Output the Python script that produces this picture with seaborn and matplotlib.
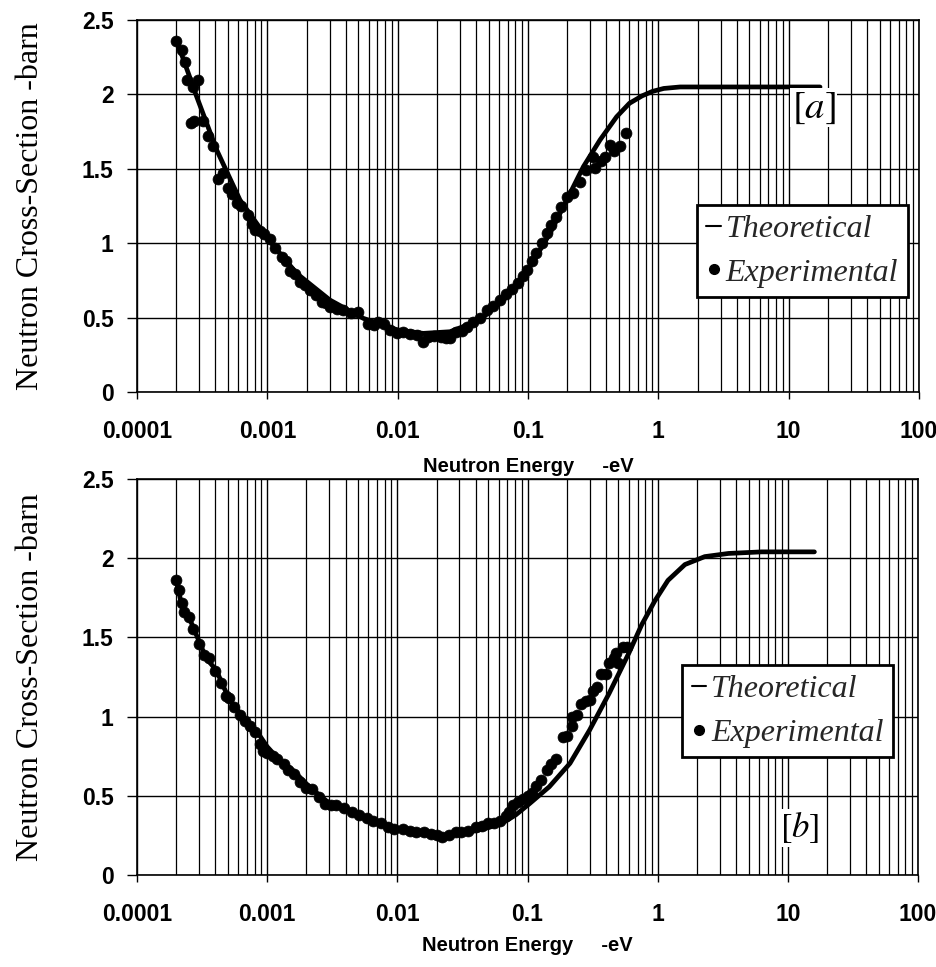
import numpy as np
import pandas as pd
import matplotlib
matplotlib.use("Agg")
import matplotlib.pyplot as plt
import seaborn as sns
from matplotlib.ticker import FixedLocator, FixedFormatter, LogLocator, NullFormatter
from matplotlib.lines import Line2D
from matplotlib.font_manager import FontProperties

# ---------------- data ----------------
x_ticks = [1e-4, 1e-3, 1e-2, 1e-1, 1, 10, 100]
x_tick_labels = ["0.0001", "0.001", "0.01", "0.1", "1", "10", "100"]
y_ticks = [0, 0.5, 1, 1.5, 2, 2.5]
y_tick_labels = ["0", "0.5", "1", "1.5", "2", "2.5"]

# panel [a] theoretical curve
theo_a_E = [2.0e-4, 2.87e-4, 4.09e-4, 6.17e-4, 1e-3, 1.68e-3, 3.02e-3, 5.45e-3, 0.01, 0.0157,
            0.0252, 0.0429, 0.0687, 0.1035, 0.1475, 0.198, 0.266, 0.357, 0.479, 0.60,
            0.75, 0.90, 1.1, 1.47, 2.5, 5.0, 17.4]
theo_a_S = [2.37, 1.985, 1.626, 1.29, 1.033, 0.797, 0.618, 0.495, 0.417, 0.394,
            0.405, 0.484, 0.64, 0.842, 1.066, 1.29, 1.514, 1.694, 1.85, 1.94,
            1.99, 2.02, 2.04, 2.05, 2.05, 2.05, 2.05]

# panel [a] experimental points
exp_a_E = [2.0e-4, 2.2e-4, 2.35e-4, 2.4e-4, 2.7e-4, 2.96e-4, 2.6e-4, 2.75e-4, 3.2e-4, 3.5e-4,
           3.8e-4, 4.2e-4, 4.6e-4, 5.0e-4, 5.4e-4, 5.8e-4, 6.3e-4, 7.1e-4, 7.6e-4, 8.05e-4,
           8.8e-4, 9.5e-4, 1.05e-3, 1.15e-3, 1.29e-3, 1.38e-3, 1.49e-3, 1.62e-3, 1.78e-3, 1.95e-3,
           2.12e-3, 2.35e-3, 2.61e-3, 2.8e-3, 3.03e-3, 3.4e-3, 3.83e-3, 4.4e-3, 5.0e-3, 5.9e-3,
           6.6e-3, 7.1e-3, 7.8e-3, 8.8e-3, 9.8e-3, 0.011, 0.0125, 0.014, 0.0157, 0.017,
           0.019, 0.0215, 0.0235, 0.0252, 0.028, 0.031, 0.0339, 0.038, 0.043, 0.0481,
           0.054, 0.0609, 0.068, 0.075, 0.0845, 0.091, 0.098, 0.107, 0.116, 0.127,
           0.139, 0.151, 0.165, 0.18, 0.198, 0.223, 0.25, 0.28, 0.317, 0.325,
           0.36, 0.39, 0.426, 0.46, 0.51, 0.56]
exp_a_S = [2.36, 2.30, 2.22, 2.10, 2.05, 2.10, 1.81, 1.82, 1.82, 1.72,
           1.65, 1.43, 1.47, 1.37, 1.33, 1.27, 1.25, 1.19, 1.13, 1.09,
           1.08, 1.06, 1.03, 0.97, 0.91, 0.88, 0.81, 0.79, 0.74, 0.72,
           0.685, 0.65, 0.607, 0.60, 0.573, 0.56, 0.551, 0.53, 0.54, 0.46,
           0.45, 0.47, 0.46, 0.42, 0.394, 0.40, 0.39, 0.38, 0.338, 0.37,
           0.375, 0.37, 0.36, 0.36, 0.40, 0.41, 0.44, 0.47, 0.50, 0.551,
           0.58, 0.618, 0.66, 0.69, 0.73, 0.78, 0.82, 0.88, 0.932, 1.00,
           1.066, 1.12, 1.178, 1.24, 1.31, 1.335, 1.413, 1.49, 1.58, 1.503,
           1.55, 1.58, 1.66, 1.62, 1.65, 1.74]

# panel [b] theoretical curve
theo_b_E = [2.0e-4, 2.25e-4, 2.53e-4, 3.4e-4, 4.06e-4, 5.13e-4, 6.5e-4, 8.2e-4, 1.0e-3, 1.24e-3,
            1.57e-3, 2.11e-3, 3.0e-3, 4.8e-3, 7.7e-3, 0.01, 0.0148, 0.021, 0.0317, 0.0506,
            0.068, 0.0814, 0.1035, 0.147, 0.212, 0.30, 0.424, 0.6, 0.754, 0.95,
            1.2, 1.62, 2.3, 3.5, 6.3, 16.0]
theo_b_S = [1.86, 1.673, 1.62, 1.368, 1.294, 1.105, 1.0, 0.915, 0.81, 0.726,
            0.663, 0.557, 0.453, 0.39, 0.326, 0.295, 0.263, 0.245, 0.26, 0.30,
            0.34, 0.38, 0.45, 0.557, 0.705, 0.915, 1.147, 1.40, 1.58, 1.73,
            1.86, 1.96, 2.01, 2.03, 2.04, 2.04]

# panel [b] experimental points
exp_b_E = [2.0e-4, 2.1e-4, 2.2e-4, 2.3e-4, 2.5e-4, 2.7e-4, 3.0e-4, 3.3e-4, 3.6e-4, 4.0e-4,
           4.4e-4, 4.8e-4, 5.1e-4, 5.6e-4, 6.2e-4, 6.8e-4, 7.4e-4, 8.1e-4, 8.8e-4, 9.3e-4,
           1.0e-3, 1.1e-3, 1.2e-3, 1.35e-3, 1.45e-3, 1.6e-3, 1.8e-3, 2.0e-3, 2.2e-3, 2.5e-3,
           2.8e-3, 3.1e-3, 3.4e-3, 3.9e-3, 4.5e-3, 5.1e-3, 5.8e-3, 6.5e-3, 7.5e-3, 8.5e-3,
           0.0095, 0.011, 0.0125, 0.014, 0.016, 0.018, 0.020, 0.022, 0.025, 0.028,
           0.031, 0.035, 0.040, 0.045, 0.050, 0.055, 0.062, 0.068, 0.072, 0.078,
           0.085, 0.093, 0.100, 0.108, 0.116, 0.128, 0.140, 0.152, 0.165, 0.187,
           0.200, 0.221, 0.221, 0.240, 0.256, 0.280, 0.300, 0.320, 0.340, 0.370,
           0.400, 0.424, 0.460, 0.480, 0.500, 0.540, 0.580]
exp_b_S = [1.86, 1.80, 1.72, 1.66, 1.63, 1.55, 1.46, 1.39, 1.37, 1.29,
           1.21, 1.13, 1.12, 1.06, 1.01, 0.97, 0.94, 0.90, 0.83, 0.78,
           0.77, 0.75, 0.73, 0.70, 0.66, 0.64, 0.59, 0.55, 0.54, 0.49,
           0.45, 0.44, 0.44, 0.42, 0.40, 0.38, 0.36, 0.34, 0.33, 0.30,
           0.29, 0.29, 0.28, 0.27, 0.27, 0.26, 0.25, 0.24, 0.25, 0.27,
           0.27, 0.28, 0.30, 0.31, 0.33, 0.33, 0.34, 0.37, 0.40, 0.44,
           0.46, 0.48, 0.50, 0.52, 0.56, 0.60, 0.66, 0.70, 0.73, 0.87,
           0.88, 0.94, 1.00, 1.01, 1.08, 1.10, 1.105, 1.16, 1.19, 1.27,
           1.27, 1.34, 1.37, 1.40, 1.34, 1.44, 1.44]

legend_labels = ["Theoretical", "Experimental"]
panel_tags = ["$[a]$", "$[b]$"]
x_label = "Neutron Energy     -eV"
y_label = "Neutron Cross-Section -barn"

# ---------------- style ----------------
sns.set_style("white")
plt.rcParams["font.family"] = ["Liberation Sans", "DejaVu Sans"]
plt.rcParams["mathtext.fontset"] = "stix"

fig = plt.figure(figsize=(9.37, 9.67), dpi=100)
ax_a = fig.add_axes([137 / 937, 1 - 392 / 967, 782 / 937, 372 / 967])
ax_b = fig.add_axes([137 / 937, 1 - 875 / 967, 781 / 937, 396 / 967])

serif = "Liberation Serif"


def draw_panel(ax, tE, tS, eE, eS, tag, tag_xy, tag_size, leg_anchor, xlab_y):
    dft = pd.DataFrame({"E": tE, "S": tS})
    dfe = pd.DataFrame({"E": eE, "S": eS})
    sns.lineplot(data=dft, x="E", y="S", ax=ax, color="black", linewidth=3.4,
                 estimator=None, sort=False, zorder=3)
    sns.scatterplot(data=dfe, x="E", y="S", ax=ax, color="black", s=62,
                    edgecolor="black", linewidth=0.5, zorder=4)
    ax.set_xscale("log")
    ax.set_xlim(1e-4, 100)
    ax.set_ylim(0, 2.5)
    ax.xaxis.set_major_locator(FixedLocator(x_ticks))
    ax.xaxis.set_major_formatter(FixedFormatter(x_tick_labels))
    ax.xaxis.set_minor_locator(LogLocator(base=10, subs=np.arange(2, 10), numticks=20))
    ax.xaxis.set_minor_formatter(NullFormatter())
    ax.yaxis.set_major_locator(FixedLocator(y_ticks))
    ax.yaxis.set_major_formatter(FixedFormatter(y_tick_labels))
    ax.set_axisbelow(True)
    ax.grid(which="major", axis="both", color="black", linewidth=1.0)
    ax.grid(which="minor", axis="x", color="black", linewidth=0.9)
    ax.tick_params(axis="x", which="major", direction="out", length=5, width=1,
                   pad=15, labelsize=16.5, colors="black")
    ax.tick_params(axis="x", which="minor", length=0)
    ax.tick_params(axis="y", which="major", direction="out", length=7, width=1,
                   pad=10, labelsize=16.5, colors="black")
    ax.tick_params(left=True, bottom=True)
    for lbl in ax.get_xticklabels() + ax.get_yticklabels():
        lbl.set_fontweight("bold")
    for sp in ax.spines.values():
        sp.set_color("black")
        sp.set_linewidth(1.2)
    ax.set_xlabel(x_label, fontsize=14.5, fontweight="bold", color="black")
    ax.xaxis.set_label_coords(0.5, xlab_y)
    ax.set_ylabel(y_label, fontsize=23, family=serif, color="black")
    ax.yaxis.set_label_coords(-0.118, 0.5)
    ax.text(tag_xy[0], tag_xy[1], tag, fontsize=tag_size, ha="center", va="center",
            color="black", zorder=5,
            bbox=dict(facecolor="white", edgecolor="none", pad=1))
    handles = [Line2D([], [], color="black", lw=1.5),
               Line2D([], [], marker="o", color="black", ls="none", markersize=7)]
    leg = ax.legend(handles, legend_labels, loc="upper left", bbox_to_anchor=leg_anchor,
                    borderaxespad=0, prop=FontProperties(family=serif, style="italic", size=23),
                    handlelength=0.45, handletextpad=0.15, borderpad=0.3,
                    labelspacing=0.45, frameon=True, fancybox=False)
    fr = leg.get_frame()
    fr.set_edgecolor("black")
    fr.set_linewidth(2)
    fr.set_facecolor("white")
    fr.set_alpha(1)
    leg.set_zorder(6)


draw_panel(ax_a, theo_a_E, theo_a_S, exp_a_E, exp_a_S, panel_tags[0], (15.6, 1.91), 28,
           (0.716, 0.503), -0.175)
draw_panel(ax_b, theo_b_E, theo_b_S, exp_b_E, exp_b_S, panel_tags[1], (12.4, 0.297), 25,
           (0.698, 0.530), -0.155)

fig.savefig("out.png", dpi=100, facecolor="white")
